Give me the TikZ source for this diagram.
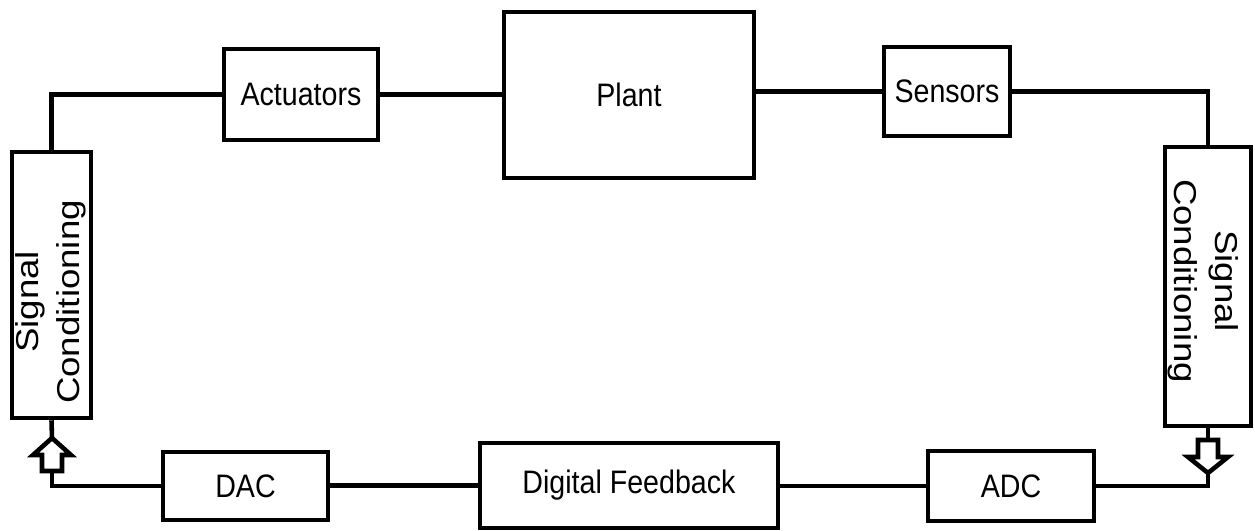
\documentclass[tikz,border=0pt]{standalone}
\usepackage{fontspec}
\setmainfont{Liberation Sans}
\newfontfamily\boxfont{Liberation Sans}[FakeStretch=0.88]
\newfontfamily\widefont{Liberation Sans}[FakeStretch=1.16]
\begin{document}
\begin{tikzpicture}[x=0.02cm,y=-0.02cm,line width=2.6pt,
  blk/.style={draw,rectangle,inner sep=0pt,font=\boxfont\fontsize{18.5}{21}\selectfont},
  dims/.style n args={2}{minimum width=#1*0.02cm,minimum height=#2*0.02cm},
  sctext/.style={align=center,inner sep=0pt,font=\widefont\fontsize{18}{23}\selectfont},
  blockarrow/.style={draw,fill=white,line join=miter}]
\useasboundingbox (0,0) rectangle (1255,531);

% blocks
\node[blk,dims={79}{266}]  (lsc)   at (51.5,285)  {};
\node[blk,dims={154}{91}]  (act)   at (301,94.5)  {Actuators};
\node[blk,dims={250}{166}] (plant) at (629,95)    {Plant};
\node[blk,dims={126}{89}]  (sens)  at (947,91.5)  {Sensors};
\node[blk,dims={86}{279}]  (rsc)   at (1208,286.5){};
\node[blk,dims={165}{68}]  (dac)   at (245.5,486) {DAC};
\node[blk,dims={298}{85}]  (df)    at (629,485.5) {Digital Feedback};
\node[blk,dims={166}{70}]  (adc)   at (1011,486)  {ADC};

% rotated labels
\node[sctext,rotate=90]  (lsct) at (51,302)  {Signal\\Conditioning};
\node[sctext,rotate=-90] (rsct) at (1203,281) {Signal\\Conditioning};

% arrow coordinates
\coordinate (ltip)  at (52,438);
\coordinate (lbase) at (52,471);
\coordinate (rtop)  at (1208,440);
\coordinate (rtip)  at (1208,473);

% connectors, top
\draw (lsc.north) |- (act.west);
\draw (act.east) -- (act.east -| plant.west);
\draw (sens.west -| plant.east) -- (sens.west);
\draw (sens.east) -| (rsc.north);

% right side
\draw (rsc.south) -- (rtop);
\draw[blockarrow] (1198,440) -- (1218,440) -- (1218,457) -- (1228,457) -- (rtip) -- (1188,457) -- (1198,457) -- cycle;
\draw (rtip) |- (adc.east);

% bottom
\draw (adc.west) -- (adc.west -| df.east);
\draw (df.west) -- (df.west -| dac.east);
\draw (dac.west) -| (lbase);

% left side
\draw[blockarrow] (ltip) -- (71,455) -- (62,455) -- (62,471) -- (42,471) -- (42,455) -- (33,455) -- cycle;
\draw (ltip) -- (lsc.south);
\end{tikzpicture}
\end{document}
